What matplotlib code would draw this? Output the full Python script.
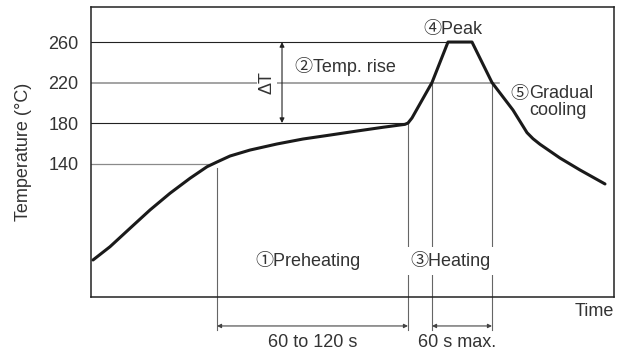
import matplotlib.pyplot as plt

plt.rcParams['font.family'] = ['Liberation Sans', 'Noto Sans CJK JP']

# reflow temperature profile (time in s, temperature in degC)
profile_t = [2, 19, 39, 59, 79, 99, 116, 126, 139, 159, 186, 212, 239, 266, 292, 314, 317,
             321, 341, 357, 381, 401, 422, 436, 442, 449, 469, 489, 514]
profile_T = [44.7, 57.8, 76, 94.1, 110.6, 125.4, 136.8, 141.5, 147.4, 153.3, 159.3, 164.2,
             168.1, 172.1, 175.8, 178.7, 180, 185, 220, 260, 260, 220, 192.8, 170.5, 164.5,
             159, 145.4, 133.6, 119.8]

yticks = [140, 180, 220, 260]

# stage boundaries
t_pre_start = 126     # 140 degC reached
t_pre_end = 317       # 180 degC reached
t_heat_start = 341    # 220 degC on the way up
t_peak_start = 357
t_heat_end = 401      # 220 degC on the way down

txt = '#333333'
grey = '#8a8a8a'
fs = 13

fig = plt.figure(figsize=(6.2, 3.51), dpi=100)
ax = fig.add_axes([0.1468, 0.1538, 0.8435, 0.8262])
ax.set_xlim(0, 523)
ax.set_ylim(8.1, 294.6)

for s in ax.spines.values():
    s.set_linewidth(1.1)
    s.set_color('#222222')

ax.set_xticks([])
ax.set_yticks(yticks)
ax.tick_params(axis='y', length=0, pad=9, labelsize=fs, labelcolor=txt)
ax.set_ylabel('Temperature (°C)', fontsize=fs, color=txt, labelpad=12)

# horizontal guide lines
ax.plot([0, t_peak_start], [260, 260], color='#222222', lw=0.8)
ax.plot([0, 408], [220, 220], color=grey, lw=1.1)
ax.plot([0, t_pre_end], [180, 180], color='#222222', lw=0.8)
ax.plot([0, 119], [140, 140], color=grey, lw=0.9)

# vertical guide lines, running below the axis
y_low = -24.4
for t0, T0 in [(t_pre_start, 136), (t_pre_end, 180), (t_heat_start, 220), (t_heat_end, 220)]:
    ax.plot([t0, t0], [T0, y_low], color='#666666', lw=0.8, clip_on=False, zorder=1)

# profile curve
ax.plot(profile_t, profile_T, color='#1a1a1a', lw=2.2, solid_joinstyle='round',
        solid_capstyle='round', zorder=3)

# delta T arrow
ax.annotate('', xy=(191, 260), xytext=(191, 180),
            arrowprops=dict(arrowstyle='<|-|>', color='#222222', lw=0.8,
                            mutation_scale=7, shrinkA=0, shrinkB=0))
ax.text(176, 220, 'ΔT', rotation=90, ha='center', va='center', fontsize=fs, color=txt,
        bbox=dict(facecolor='white', edgecolor='none', pad=1))

# time span arrows
y_dim = -20.5
for a, b in [(t_pre_start, t_pre_end), (t_heat_start, t_heat_end)]:
    ax.annotate('', xy=(a, y_dim), xytext=(b, y_dim), annotation_clip=False,
                arrowprops=dict(arrowstyle='<|-|>', color='#444444', lw=0.8,
                                mutation_scale=6, shrinkA=0, shrinkB=0))

ax.text((t_pre_start + t_pre_end) / 2, -37.3, '60 to 120 s', ha='center', va='center',
        fontsize=fs, color=txt, clip_on=False)
ax.text(366, -37.3, '60 s max.', ha='center', va='center', fontsize=fs, color=txt,
        clip_on=False)
ax.text(523, -6.7, 'Time', ha='right', va='center', fontsize=fs, color=txt, clip_on=False)

# stage labels
ax.text(332, 272.8, '④Peak', ha='left', va='center', fontsize=fs, color=txt)
ax.text(204, 236.3, '②Temp. rise', ha='left', va='center', fontsize=fs, color=txt)
c5 = ax.text(419, 208, '⑤', ha='left', va='center', fontsize=fs, color=txt)
ax.annotate('Gradual\ncooling', xy=(1, 1), xycoords=c5, xytext=(1, 1),
            textcoords='offset points', ha='left', va='top', fontsize=fs, color=txt,
            linespacing=1.05)
ax.text(164, 43.7, '①Preheating', ha='left', va='center', fontsize=fs, color=txt)
ax.text(319, 43.7, '③Heating', ha='left', va='center', fontsize=fs, color=txt,
        bbox=dict(facecolor='white', edgecolor='none', pad=3), zorder=4)

fig.savefig('out.png', dpi=100)
